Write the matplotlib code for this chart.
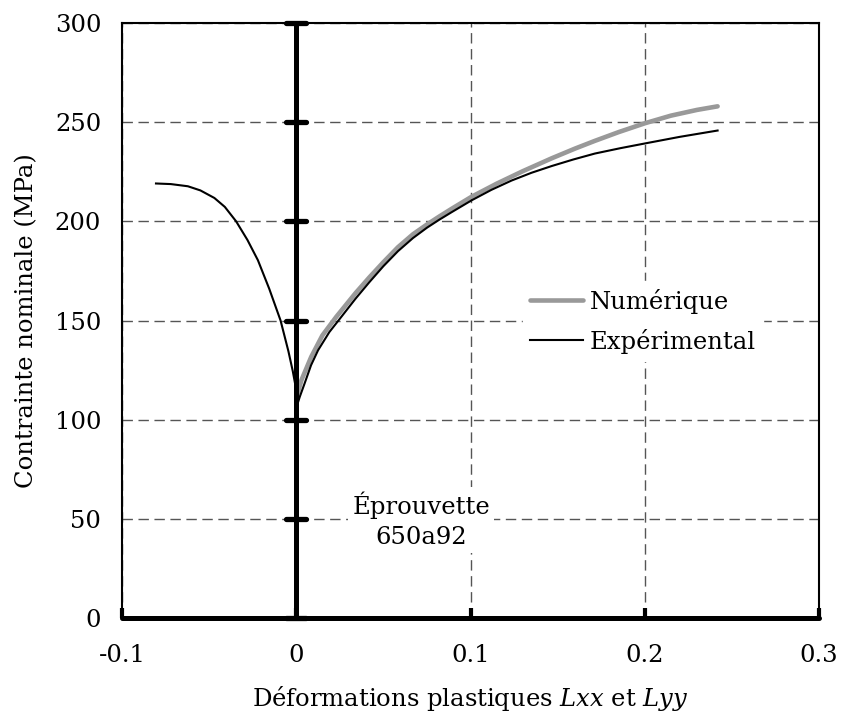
import matplotlib
matplotlib.use("Agg")
import matplotlib.pyplot as plt
from matplotlib.markers import MarkerStyle

plt.rcParams['font.family'] = ['DejaVu Serif']
plt.rcParams['mathtext.fontset'] = 'dejavuserif'

# Experimental, compression-side branch (x < 0)
exp_left_x = [-0.0805, -0.0720, -0.0622, -0.0550, -0.0470, -0.0410, -0.0345, -0.0280,
              -0.0220, -0.0155, -0.0090, -0.0045, -0.0020, 0.0000]
exp_left_y = [219.1, 218.8, 217.7, 215.6, 211.8, 207.3, 200.0, 190.6,
              180.4, 166.0, 150.0, 134.5, 124.5, 115.0]
# Experimental, tension-side branch (x > 0)
exp_right_x = [0.0000, 0.0020, 0.0048, 0.0085, 0.0125, 0.0190, 0.0259, 0.0340, 0.0420,
               0.0500, 0.0584, 0.0670, 0.0750, 0.0820, 0.0891, 0.1006, 0.1120, 0.1236,
               0.1350, 0.1466, 0.1590, 0.1714, 0.1860, 0.2002, 0.2200, 0.2418]
exp_right_y = [106.0, 111.5, 118.3, 127.5, 135.0, 144.2, 151.9, 161.0, 169.4,
               177.4, 185.0, 191.6, 196.8, 200.8, 204.6, 210.6, 215.9, 220.6,
               224.5, 227.9, 231.2, 234.2, 236.9, 239.3, 242.6, 245.8]
# Numerical
num_x = [0.0000, 0.0030, 0.0086, 0.0150, 0.0230, 0.0340, 0.0420, 0.0500, 0.0584,
         0.0670, 0.0750, 0.0820, 0.0891, 0.1006, 0.1150, 0.1300, 0.1466, 0.1600,
         0.1714, 0.1850, 0.2002, 0.2150, 0.2300, 0.2418]
num_y = [111.0, 120.0, 131.7, 142.5, 151.9, 163.8, 171.8, 179.4, 187.0,
         193.5, 198.4, 202.4, 206.3, 212.4, 219.0, 225.3, 231.8, 236.7,
         240.6, 245.0, 249.5, 253.3, 256.2, 258.0]

xticks = [-0.1, 0, 0.1, 0.2, 0.3]
xticklabels = ['-0.1', '0', '0.1', '0.2', '0.3']
yticks = [0, 50, 100, 150, 200, 250, 300]

FS = 17.5

fig = plt.figure(figsize=(8.42, 7.22), dpi=100)
ax = fig.add_axes([0.1449, 0.144, 0.9727 - 0.1449, 0.9681 - 0.144])

ax.set_xlim(-0.1, 0.3)
ax.set_ylim(0, 300)
ax.set_xticks(xticks)
ax.set_xticklabels(xticklabels)
ax.set_yticks(yticks)

ax.grid(True, linestyle=(0, (7.5, 4)), color='#555555', linewidth=1.0, zorder=0)
ax.set_axisbelow(True)

for s in ['left', 'top', 'right']:
    ax.spines[s].set_linewidth(1.5)
ax.spines['bottom'].set_linewidth(3.6)
ax.spines['bottom'].set_capstyle('round')
ax.spines['bottom'].set_zorder(7)

ax.tick_params(axis='x', direction='in', length=7, width=3.0, pad=19, labelsize=FS)
ax.tick_params(axis='y', length=0, pad=15, labelsize=FS)

# central vertical axis at x=0 with its tick marks
ax.axvline(0, color='black', linewidth=3.6, zorder=7, solid_capstyle='round')
ax.plot([0] * len(yticks), yticks, linestyle='none',
        marker=MarkerStyle('_', capstyle='round'), markersize=15,
        markeredgewidth=3.8, color='black', zorder=8, clip_on=False)

ax.plot(num_x, num_y, color='#999999', linewidth=3.3, solid_capstyle='round',
        solid_joinstyle='round', zorder=4, label='Numérique')
ax.plot(exp_right_x, exp_right_y, color='black', linewidth=1.5, zorder=5,
        solid_joinstyle='round', label='Expérimental')
ax.plot(exp_left_x, exp_left_y, color='black', linewidth=1.5, zorder=5,
        solid_joinstyle='round')

leg = ax.legend(loc='upper left', bbox_to_anchor=(0.5747, 0.566), fontsize=FS,
                frameon=True, fancybox=False, framealpha=1, edgecolor='white',
                facecolor='white', handlelength=2.17, handletextpad=0.29,
                borderpad=0.3, labelspacing=0.62, borderaxespad=0)
leg.set_zorder(6)

ax.text(0.0718, 49.4, 'Éprouvette\n650a92', ha='center', va='center', fontsize=FS,
        linespacing=1.4, zorder=6,
        bbox=dict(facecolor='white', edgecolor='none', pad=3))

ax.set_xlabel('Déformations plastiques $\\mathit{Lxx}$ et $\\mathit{Lyy}$',
              fontsize=FS, labelpad=12)
ax.set_ylabel('Contrainte nominale (MPa)', fontsize=FS, labelpad=12)

fig.savefig('out.png', dpi=100)
